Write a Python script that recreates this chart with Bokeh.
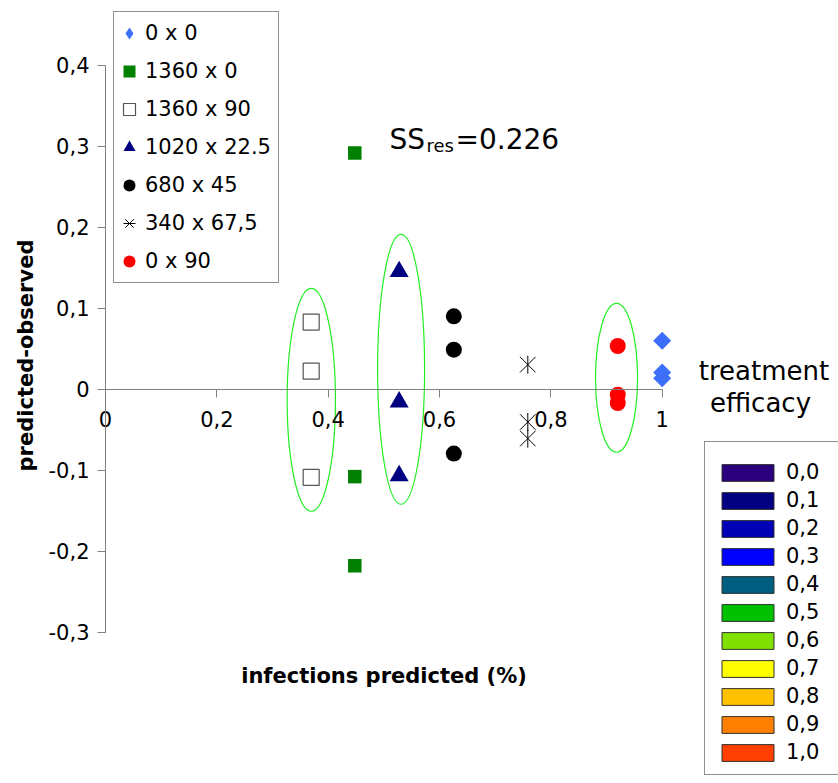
import math
from bokeh.plotting import figure
from bokeh.models import (Range1d, LinearAxis, FixedTicker, Legend, LegendItem,
                          Label, ColumnDataSource)
from bokeh.embed import file_html
from bokeh.resources import INLINE

# ---------------- data ----------------
series_labels = ["0 x 0", "1360 x 0", "1360 x 90", "1020 x 22.5",
                 "680 x 45", "340 x 67,5", "0 x 90"]

x_0x0 = [1.0, 1.0, 1.0]
y_0x0 = [0.0596, 0.0206, 0.0134]

x_1360x0 = [0.4478, 0.4478, 0.4478]
y_1360x0 = [0.2915, -0.108, -0.218]

x_1360x90 = [0.3695, 0.3695, 0.3695]
y_1360x90 = [0.0828, 0.0222, -0.109]

x_1020x225 = [0.5275, 0.5275, 0.5275]
y_1020x225 = [0.145, -0.016, -0.107]

x_680x45 = [0.6257, 0.6257, 0.6257]
y_680x45 = [0.0898, 0.0487, -0.0796]

x_340x675 = [0.7586, 0.7586, 0.7586]
y_340x675 = [0.0302, -0.0406, -0.061]

x_0x90 = [0.9202, 0.9202, 0.9202]
y_0x90 = [0.0532, -0.0068, -0.0171]

# highlighted groups (green ellipses)
ellipse_x = [0.3697, 0.531, 0.918]
ellipse_y = [-0.0132, 0.0244, 0.0139]
ellipse_w = [0.0868, 0.0844, 0.0755]
ellipse_h = [0.275, 0.333, 0.184]

efficacy_labels = ["0,0", "0,1", "0,2", "0,3", "0,4", "0,5",
                   "0,6", "0,7", "0,8", "0,9", "1,0"]
efficacy_colors = ["#2A007F", "#000080", "#0000B4", "#0000FF", "#005E80",
                   "#00C000", "#80E000", "#FFFF00", "#FFC000", "#FF8000",
                   "#FF4000"]

x_ticks = [0, 0.2, 0.4, 0.6, 0.8, 1]
x_tick_labels = ["0", "0,2", "0,4", "0,6", "0,8", "1"]
y_ticks = [-0.3, -0.2, -0.1, 0, 0.1, 0.2, 0.3, 0.4]
y_tick_labels = ["-0,3", "-0,2", "-0,1", "0", "0,1", "0,2", "0,3", "0,4"]

FONT = "DejaVu Sans"
H = 783

# ---------------- figure ----------------
p = figure(width=838, height=H,
           x_range=Range1d(-0.1886, 1.3167), y_range=Range1d(-0.4867, 0.4796),
           output_backend="svg", toolbar_location=None,
           x_axis_location=None, y_axis_location=None, min_border=0)
p.outline_line_color = None
p.background_fill_color = "white"
p.border_fill_color = "white"
p.xgrid.grid_line_color = None
p.ygrid.grid_line_color = None

axis_style = dict(axis_line_color="#808080", axis_line_width=1,
                  major_tick_line_color="#808080", major_tick_in=0,
                  major_tick_out=8, minor_tick_line_color=None,
                  major_label_text_font=FONT, major_label_text_font_size="21px",
                  major_label_text_color="black")

xaxis = LinearAxis(fixed_location=0, bounds=(0, 1),
                   ticker=FixedTicker(ticks=x_ticks),
                   major_label_overrides=dict(zip(x_ticks, x_tick_labels)),
                   major_label_standoff=14, **axis_style)
yaxis = LinearAxis(fixed_location=0, bounds=(-0.3, 0.4),
                   ticker=FixedTicker(ticks=y_ticks),
                   major_label_overrides=dict(zip(y_ticks, y_tick_labels)),
                   major_label_standoff=8, **axis_style)
p.add_layout(xaxis, "below")
p.add_layout(yaxis, "left")

# ellipses
p.ellipse(x=ellipse_x, y=ellipse_y, width=ellipse_w, height=ellipse_h,
          fill_color=None, line_color="#22EE22", line_width=1.2)

# series
r1 = p.scatter(x_0x0, y_0x0, marker="square", angle=math.pi / 4, size=12.7,
               fill_color="#3D6EFA", line_color=None)
r1_key = p.scatter(x_0x0, y_0x0, marker="diamond", size=14,
                   fill_color="#3D6EFA", line_color=None, visible=False)
r2 = p.scatter(x_1360x0, y_1360x0, marker="square", size=13.5,
               fill_color="#008000", line_color=None)
r3 = p.scatter(x_1360x90, y_1360x90, marker="square", size=16,
               fill_color="white", line_color="#555555", line_width=1.2)
r4 = p.scatter(x_1020x225, y_1020x225, marker="triangle", size=19,
               fill_color="#000080", line_color=None)
r5 = p.scatter(x_680x45, y_680x45, marker="circle", size=16,
               fill_color="black", line_color=None)
r6a = p.scatter(x_340x675, y_340x675, marker="x", size=22,
                line_color="black", line_width=1)
r6b = p.scatter(x_340x675, y_340x675, marker="dash", angle=math.pi / 2, size=18,
                line_color="black", line_width=1)
r7 = p.scatter(x_0x90, y_0x90, marker="circle", size=16,
               fill_color="#FF0000", line_color=None)

renderer_groups = [[r1_key], [r2], [r3], [r4], [r5], [r6a, r6b], [r7]]
leg1 = Legend(items=[LegendItem(label=lab, renderers=rs)
                     for lab, rs in zip(series_labels, renderer_groups)],
              location=(113, 500), margin=0,
              padding=dict(left=0, right=6, top=6, bottom=6),
              glyph_width=30, glyph_height=30, label_standoff=1, spacing=8,
              label_width=127, label_text_font=FONT,
              label_text_font_size="21px", label_text_color="black",
              border_line_color="#222222",
              border_line_width=1, background_fill_color="white",
              background_fill_alpha=1)
p.add_layout(leg1)

# treatment efficacy colour key
eff_src = ColumnDataSource(dict(label=efficacy_labels, color=efficacy_colors))
r_eff = p.quad(left=0, right=0, top=0, bottom=0, source=eff_src,
               fill_color="color", line_color="#333333", line_width=1,
               visible=False)
leg2 = Legend(items=[LegendItem(label=lab, renderers=[r_eff], index=i)
                     for i, lab in enumerate(efficacy_labels)],
              location=(704, 8), margin=0,
              padding=dict(left=10, right=30, top=18, bottom=10),
              glyph_width=65, glyph_height=21, label_standoff=6, spacing=4,
              label_width=46, label_text_font=FONT, label_text_font_size="21px",
              label_text_color="black",
              border_line_color="#222222", border_line_width=1,
              background_fill_color="white", background_fill_alpha=1)
p.add_layout(leg2)

# texts
def lab(text, x, y, size, bold=False, align="left", angle=0):
    p.add_layout(Label(text=text, x=x, y=H - y, x_units="screen", y_units="screen",
                       text_font=FONT, text_font_size=size,
                       text_font_style="bold" if bold else "normal",
                       text_align=align, text_baseline="alphabetic",
                       angle=angle, text_color="black"))

lab("predicted-observed", 25, 355, "21px", bold=True, align="center", angle=math.pi / 2)
lab("infections predicted (%)", 383.5, 675, "21px", bold=True, align="center")
lab("SS", 389, 138.5, "28px")
lab("res", 426, 145, "18px")
lab("=0.226", 455, 138.5, "28px")
lab("treatment", 763.5, 370, "26px", align="center")
lab("efficacy", 760, 402, "26px", align="center")

open("out.html", "w").write(file_html(p, INLINE))
